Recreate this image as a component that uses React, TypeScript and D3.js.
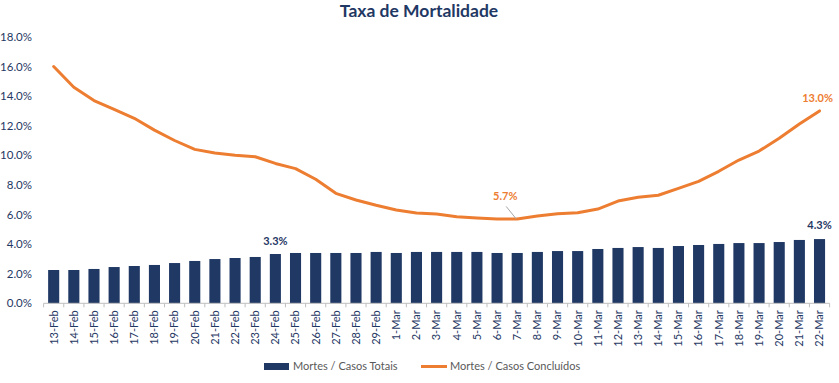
import React from "react";
import * as d3 from "d3";

const categories = [
  "13-Feb","14-Feb","15-Feb","16-Feb","17-Feb","18-Feb","19-Feb","20-Feb","21-Feb","22-Feb",
  "23-Feb","24-Feb","25-Feb","26-Feb","27-Feb","28-Feb","29-Feb","1-Mar","2-Mar","3-Mar",
  "4-Mar","5-Mar","6-Mar","7-Mar","8-Mar","9-Mar","10-Mar","11-Mar","12-Mar","13-Mar",
  "14-Mar","15-Mar","16-Mar","17-Mar","18-Mar","19-Mar","20-Mar","21-Mar","22-Mar",
];

const totalRate = [
  2.25,2.25,2.32,2.45,2.52,2.59,2.72,2.86,2.99,3.06,
  3.13,3.33,3.40,3.40,3.40,3.40,3.47,3.40,3.47,3.47,
  3.47,3.47,3.40,3.40,3.47,3.53,3.53,3.67,3.74,3.80,
  3.74,3.87,3.94,4.01,4.07,4.07,4.14,4.28,4.34,
];

const closedRate = [
  16.0,14.6,13.7,13.1,12.5,11.7,11.0,10.4,10.15,10.0,
  9.9,9.45,9.1,8.38,7.43,6.98,6.62,6.30,6.10,6.03,
  5.85,5.76,5.70,5.70,5.90,6.05,6.12,6.37,6.91,7.16,
  7.30,7.77,8.24,8.92,9.68,10.29,11.15,12.11,13.0,
];

const yTicks = [0, 2, 4, 6, 8, 10, 12, 14, 16, 18];

const NAVY = "#1F3864";
const ORANGE = "#ED7D31";
const TEXT = "#1F3864";
const FONT = "Lato, 'Open Sans', sans-serif";

export default function App() {
  const W = 839, H = 383;
  const left = 43.6, right = 829.6, top = 36.9, bottom = 303.3;

  const x = d3.scaleBand<string>().domain(categories).range([left, right]).paddingInner(0.45).paddingOuter(0.225);
  const y = d3.scaleLinear().domain([0, 18]).range([bottom, top]);
  const step = x.step();
  const bw = x.bandwidth();
  const cx = (c: string) => (x(c) as number) + bw / 2;

  const line = d3.line<number>()
    .x((_, i) => cx(categories[i]))
    .y((d) => y(d));

  const i24 = categories.indexOf("24-Feb");
  const i7 = categories.indexOf("7-Mar");
  const iLast = categories.length - 1;

  return (
    <div>
      <style>{`body{margin:0}`}</style>
      <svg width={W} height={H} style={{ display: "block", fontFamily: FONT }}>
        <rect width={W} height={H} fill="#fff" />
        <text x={419} y={17} textAnchor="middle" fontSize={17.5} fontWeight="bold" fill={NAVY}>
          Taxa de Mortalidade
        </text>

        {yTicks.map((t) => (
          <text key={t} x={32} y={y(t)} dy="0.35em" textAnchor="end" fontSize={11.5} fill={TEXT}>
            {t.toFixed(1)}%
          </text>
        ))}

        {categories.map((c, i) => (
          <rect key={c} x={x(c)} y={y(totalRate[i])} width={bw} height={bottom - y(totalRate[i])} fill={NAVY} />
        ))}

        <line x1={left} x2={right} y1={bottom} y2={bottom} stroke="#BFBFBF" strokeWidth={1} />
        {d3.range(categories.length + 1).map((i) => {
          const xx = left + i * step;
          return <line key={i} x1={xx} x2={xx} y1={bottom} y2={bottom + 4} stroke="#BFBFBF" strokeWidth={1} />;
        })}

        {categories.map((c) => (
          <text key={c} transform={`translate(${cx(c)},${bottom + 7}) rotate(-90)`} dy="0.35em" textAnchor="end" fontSize={11} fill={TEXT}>
            {c}
          </text>
        ))}

        <path d={line(closedRate) || ""} fill="none" stroke={ORANGE} strokeWidth={3} strokeLinejoin="round" strokeLinecap="round" />

        <text x={cx(categories[i24])} y={y(totalRate[i24]) - 9} textAnchor="middle" fontSize={11} fontWeight="bold" fill={NAVY}>
          {totalRate[i24].toFixed(1)}%
        </text>
        <text x={cx(categories[iLast])} y={y(totalRate[iLast]) - 10} textAnchor="middle" fontSize={11} fontWeight="bold" fill={NAVY}>
          {totalRate[iLast].toFixed(1)}%
        </text>

        <line x1={cx(categories[i7]) - 11} y1={y(closedRate[i7]) - 12.5} x2={cx(categories[i7]) - 1} y2={y(closedRate[i7])} stroke="#A6A6A6" strokeWidth={1} />
        <text x={cx(categories[i7]) - 12} y={y(closedRate[i7]) - 18.5} textAnchor="middle" fontSize={11} fontWeight="bold" fill={ORANGE}>
          {closedRate[i7].toFixed(1)}%
        </text>
        <text x={cx(categories[iLast]) - 2} y={y(closedRate[iLast]) - 9} textAnchor="middle" fontSize={11} fontWeight="bold" fill={ORANGE}>
          {closedRate[iLast].toFixed(1)}%
        </text>

        <rect x={264} y={363} width={25} height={7} fill={NAVY} />
        <text x={293} y={366.5} dy="0.35em" fontSize={11} fill="#595959">Mortes / Casos Totais</text>
        <line x1={421} x2={447} y1={366.5} y2={366.5} stroke={ORANGE} strokeWidth={3} />
        <text x={450} y={366.5} dy="0.35em" fontSize={11} fill="#595959">Mortes / Casos Concluídos</text>
      </svg>
    </div>
  );
}
